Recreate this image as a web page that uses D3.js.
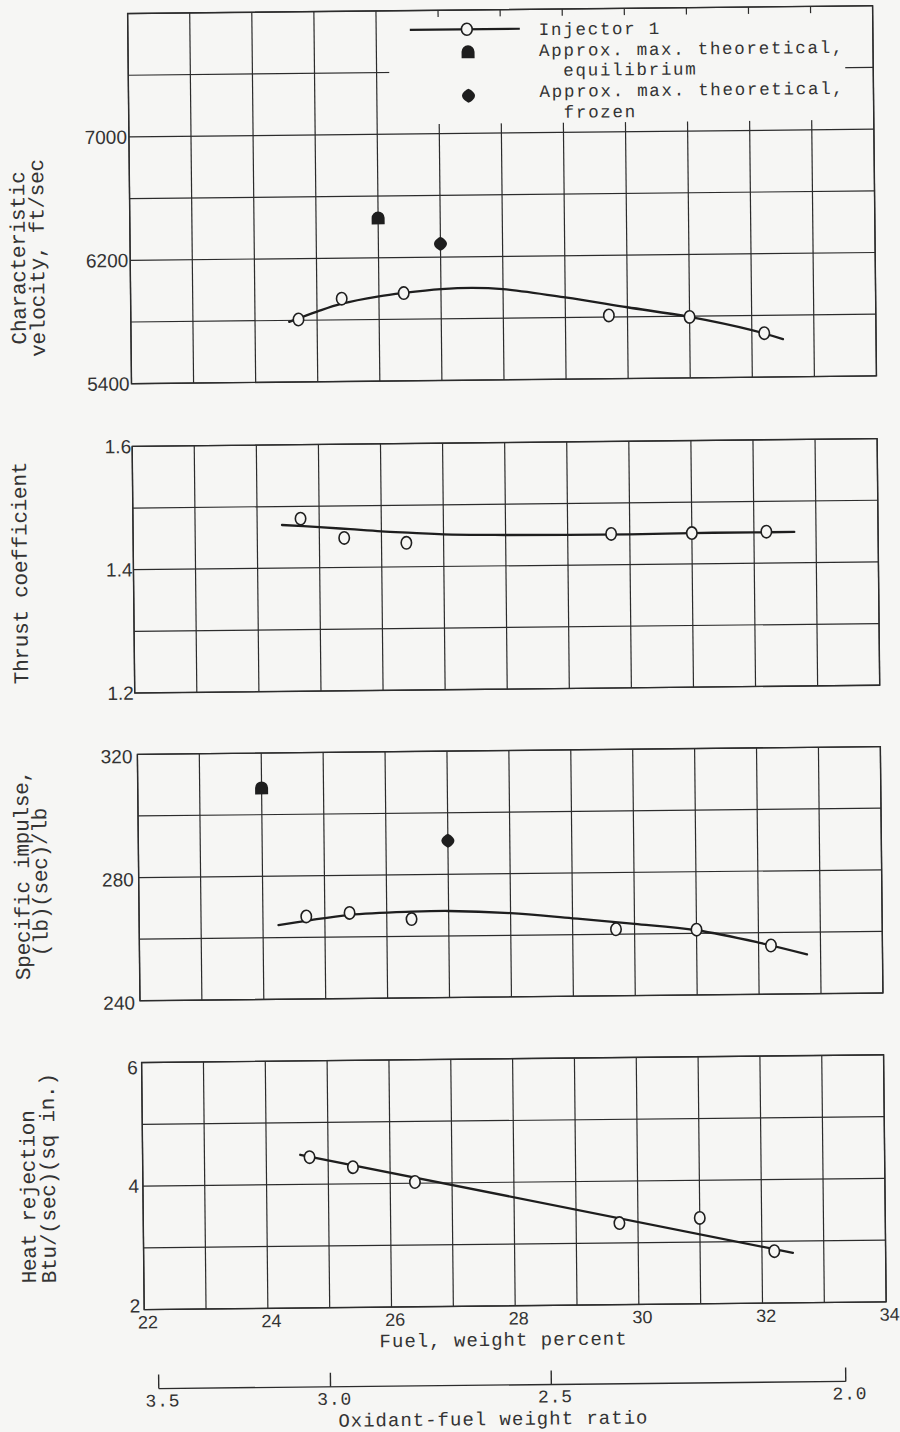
<!DOCTYPE html>
<html><head><meta charset="utf-8">
<script src="https://cdn.jsdelivr.net/npm/d3@7/dist/d3.min.js"></script>
<style>html,body{margin:0;padding:0;background:#f6f6f4;} svg{display:block;}</style>
</head><body>
<svg id="chart" width="900" height="1432"></svg>
<script>
// ---------------- data ----------------
const fuelPercent       = [24.7, 25.4, 26.4, 29.7, 31.0, 32.2];
const charVelocity      = [5805, 5937, 5969, 5810, 5795, 5685];
const thrustCoefficient = [1.480, 1.448, 1.439, 1.450, 1.450, 1.451];
const specificImpulse   = [266.8, 267.8, 265.6, 261.6, 261.2, 255.8];
const heatRejection     = [4.44, 4.27, 4.02, 3.32, 3.39, 2.84];

// faired curves
const charVelocityFairX = [24.55, 25, 25.4, 26, 26.4, 27, 27.5, 28, 29, 30, 31, 32, 32.5];
const charVelocityFairY = [5790, 5855, 5905, 5950, 5970, 5992, 5998, 5988, 5930, 5862, 5795, 5705, 5645];
const thrustFairX = [24.4, 25, 25.5, 26, 26.5, 27, 28, 29, 30, 31, 32, 32.65];
const thrustFairY = [1.470, 1.466, 1.462, 1.458, 1.455, 1.452, 1.450, 1.449, 1.449, 1.450, 1.450, 1.450];
const impulseFairX = [24.25, 24.7, 25.4, 26.4, 27, 28, 29, 30, 31, 32, 32.78];
const impulseFairY = [264.1, 265.4, 267.2, 268.0, 268.1, 267.2, 265.3, 263.3, 261.0, 256.8, 252.8];
const heatFairX = [24.55, 32.5];
const heatFairY = [4.48, 2.81];

// approx. max. theoretical values [equilibrium, frozen]
const theoKinds = ["equilibrium", "frozen"];
const charVelocityTheoFuel = [26.0, 27.0];
const charVelocityTheo     = [6458, 6286];
const impulseTheoFuel      = [24.0, 27.0];
const impulseTheo          = [308.7, 290.9];

// ticks
const fuelTicks = [22, 24, 26, 28, 30, 32, 34];
const charVelocityTicks = [5400, 6200, 7000];
const thrustTicks = [1.2, 1.4, 1.6];
const impulseTicks = [240, 280, 320];
const heatTicks = [2, 4, 6];
const ofRatioTicks = [3.5, 3.0, 2.5, 2.0];

// ---------------- drawing ----------------
const BG = "#f6f6f4", INK = "#1e1e1e", GRID = "#2c2c2c", TEXT = "#333";
const MONO = "'Liberation Mono', 'Courier New', monospace";
const SANS = "'Liberation Sans', Arial, sans-serif";
const RIGHT = 880;

const svg = d3.select("#chart");
svg.append("rect").attr("width", 900).attr("height", 1432).attr("fill", BG);
const root = svg.append("g").attr("transform", "rotate(-0.6,450,716)");

const eqPath = "M-6.5,6.5 L-6.5,0 A6.5,6.5 0 0 1 6.5,0 L6.5,6.5 Z";
const frPath = "M0,-7 C2.5,-6 6.5,-3 6.5,0 C6.5,3 2.5,6 0,7 C-2.5,6 -6.5,3 -6.5,0 C-6.5,-3 -2.5,-6 0,-7 Z";

const panels = [
  {top: 10.2, bottom: 380.4, left: 135, domain: [5400, 7800], n: 6, ticks: charVelocityTicks, fmt: d3.format("d"), pad: 2,
   vals: charVelocity, fx: charVelocityFairX, fy: charVelocityFairY, tx: charVelocityTheoFuel, ty: charVelocityTheo,
   titles: [{t: "Characteristic", x: 29.8, y: 253.5, a: "middle"}, {t: "velocity, ft/sec", x: 48.8, y: 253.7, a: "middle"}], legend: true},
  {top: 443.1, bottom: 689.7, left: 135, domain: [1.2, 1.6], n: 4, ticks: thrustTicks, fmt: d3.format(".1f"), pad: 1,
   vals: thrustCoefficient, fx: thrustFairX, fy: thrustFairY,
   titles: [{t: "Thrust coefficient", x: 28.5, y: 568.6, a: "middle"}]},
  {top: 751.1, bottom: 997.5, left: 137, domain: [240, 320], n: 4, ticks: impulseTicks, fmt: d3.format("d"), pad: 5, shift: 2,
   vals: specificImpulse, fx: impulseFairX, fy: impulseFairY, tx: impulseTheoFuel, ty: impulseTheo,
   titles: [{t: "Specific impulse,", x: 27.3, y: 870.6, a: "middle"}, {t: "(lb)(sec)/lb", x: 45.3, y: 877.8, a: "middle"}]},
  {top: 1059.3, bottom: 1306.4, left: 138, domain: [2, 6], n: 4, ticks: heatTicks, fmt: d3.format("d"), pad: 4, endShift: true,
   vals: heatRejection, fx: heatFairX, fy: heatFairY, straight: true,
   titles: [{t: "Heat rejection", x: 30, y: 1279, a: "start"}, {t: "Btu/(sec)(sq in.)", x: 50, y: 1279, a: "start"}], bottomAxis: true}
];

panels.forEach(p => {
  const x = d3.scaleLinear().domain([22, 34]).range([p.left, RIGHT]);
  const y = d3.scaleLinear().domain(p.domain).range([p.bottom, p.top]);
  const g = root.append("g");

  // grid
  g.append("g").selectAll("line").data(d3.range(22, 35)).join("line")
    .attr("x1", d => x(d)).attr("x2", d => x(d)).attr("y1", p.top).attr("y2", p.bottom)
    .attr("stroke", GRID).attr("stroke-width", 1.2);
  const hv = d3.range(0, p.n + 1).map(i => p.domain[0] + i * (p.domain[1] - p.domain[0]) / p.n);
  g.append("g").selectAll("line").data(hv).join("line")
    .attr("x1", p.left).attr("x2", RIGHT).attr("y1", d => y(d)).attr("y2", d => y(d))
    .attr("stroke", GRID).attr("stroke-width", 1.2);
  g.append("rect").attr("x", p.left).attr("y", p.top).attr("width", RIGHT - p.left).attr("height", p.bottom - p.top)
    .attr("fill", "none").attr("stroke", GRID).attr("stroke-width", 1.4);

  // y tick labels
  const ax = d3.axisLeft(y).tickValues(p.ticks).tickSize(0).tickPadding(p.pad).tickFormat(p.fmt);
  const ag = g.append("g").attr("transform", `translate(${p.left},0)`).call(ax);
  ag.select(".domain").remove();
  ag.selectAll("text").attr("font-family", SANS).attr("font-size", 19).attr("fill", TEXT)
    .attr("y", d => p.endShift ? (d === p.domain[1] ? 5 : d === p.domain[0] ? -4 : 0) : (p.shift || 0));

  // y titles
  p.titles.forEach(t => {
    g.append("text").attr("transform", `translate(${t.x},${t.y}) rotate(-90)`)
      .attr("text-anchor", t.a).attr("font-family", MONO).attr("font-size", 21)
      .attr("letter-spacing", -0.25).attr("fill", TEXT).text(t.t);
  });

  // legend (panel 1)
  if (p.legend) {
    g.append("rect").attr("x", 396).attr("y", 17).attr("width", 852 - 396).attr("height", 124 - 17).attr("fill", BG);
    const lg = g.append("g");
    lg.append("line").attr("x1", 417).attr("x2", 527).attr("y1", 29.5).attr("y2", 29.5)
      .attr("stroke", INK).attr("stroke-width", 2.2);
    lg.append("ellipse").attr("cx", 474).attr("cy", 29.5).attr("rx", 5.4).attr("ry", 6)
      .attr("fill", BG).attr("stroke", INK).attr("stroke-width", 1.6);
    lg.append("path").attr("d", eqPath).attr("transform", "translate(475,52)").attr("fill", INK);
    lg.append("path").attr("d", frPath).attr("transform", "translate(475,96)").attr("fill", INK);
    const lt = [["Injector 1", 546, 36], ["Approx. max. theoretical,", 546, 57], ["equilibrium", 570, 77],
                ["Approx. max. theoretical,", 546, 98], ["frozen", 570, 119]];
    lg.selectAll("text").data(lt).join("text")
      .attr("x", d => d[1]).attr("y", d => d[2]).text(d => d[0])
      .attr("font-family", MONO).attr("font-size", 17.5).attr("letter-spacing", 1.7).attr("fill", TEXT);
  }

  // faired curve
  const line = d3.line().x(d => x(d[0])).y(d => y(d[1]))
    .curve(p.straight ? d3.curveLinear : d3.curveCatmullRom.alpha(0.5));
  g.append("path").attr("d", line(d3.zip(p.fx, p.fy)))
    .attr("fill", "none").attr("stroke", INK).attr("stroke-width", 2.3).attr("stroke-linecap", "round");

  // data points
  g.append("g").selectAll("ellipse").data(d3.zip(fuelPercent, p.vals)).join("ellipse")
    .attr("cx", d => x(d[0])).attr("cy", d => y(d[1])).attr("rx", 5.2).attr("ry", 6.2)
    .attr("fill", BG).attr("stroke", INK).attr("stroke-width", 1.6);

  // theoretical markers
  if (p.tx) {
    g.append("g").selectAll("path").data(d3.zip(p.tx, p.ty, theoKinds)).join("path")
      .attr("d", d => d[2] === "equilibrium" ? eqPath : frPath)
      .attr("transform", d => `translate(${x(d[0])},${y(d[1])})`).attr("fill", INK);
  }

  // bottom axis and secondary O/F axis
  if (p.bottomAxis) {
    const bx = d3.axisBottom(x).tickValues(fuelTicks).tickSize(0).tickPadding(6).tickFormat(d3.format("d"));
    const bg = g.append("g").attr("transform", `translate(3,${p.bottom})`).call(bx);
    bg.select(".domain").remove();
    bg.selectAll("text").attr("font-family", SANS).attr("font-size", 18).attr("fill", TEXT);
    g.append("text").attr("x", 497).attr("y", p.bottom + 40).attr("text-anchor", "middle")
      .attr("font-family", MONO).attr("font-size", 19).attr("letter-spacing", 1.0).attr("fill", TEXT)
      .text("Fuel, weight percent");

    const ofX = r => x(100 / (1 + r));
    const sy = 1385.5;
    g.append("line").attr("x1", ofX(ofRatioTicks[0])).attr("x2", ofX(ofRatioTicks[ofRatioTicks.length - 1]))
      .attr("y1", sy).attr("y2", sy).attr("stroke", GRID).attr("stroke-width", 1.4);
    g.append("g").selectAll("line").data(ofRatioTicks).join("line")
      .attr("x1", d => ofX(d)).attr("x2", d => ofX(d)).attr("y1", sy).attr("y2", sy - 14)
      .attr("stroke", GRID).attr("stroke-width", 1.4);
    g.append("g").selectAll("text").data(ofRatioTicks).join("text")
      .attr("x", d => ofX(d) + 4).attr("y", sy + 18).attr("text-anchor", "middle")
      .attr("font-family", MONO).attr("font-size", 18).attr("letter-spacing", 0.8).attr("fill", TEXT).text(d3.format(".1f"));
    g.append("text").attr("x", 486).attr("y", 1425.5).attr("text-anchor", "middle")
      .attr("font-family", MONO).attr("font-size", 19).attr("letter-spacing", 1.0).attr("fill", TEXT)
      .text("Oxidant-fuel weight ratio");
  }
});
</script>
</body></html>
